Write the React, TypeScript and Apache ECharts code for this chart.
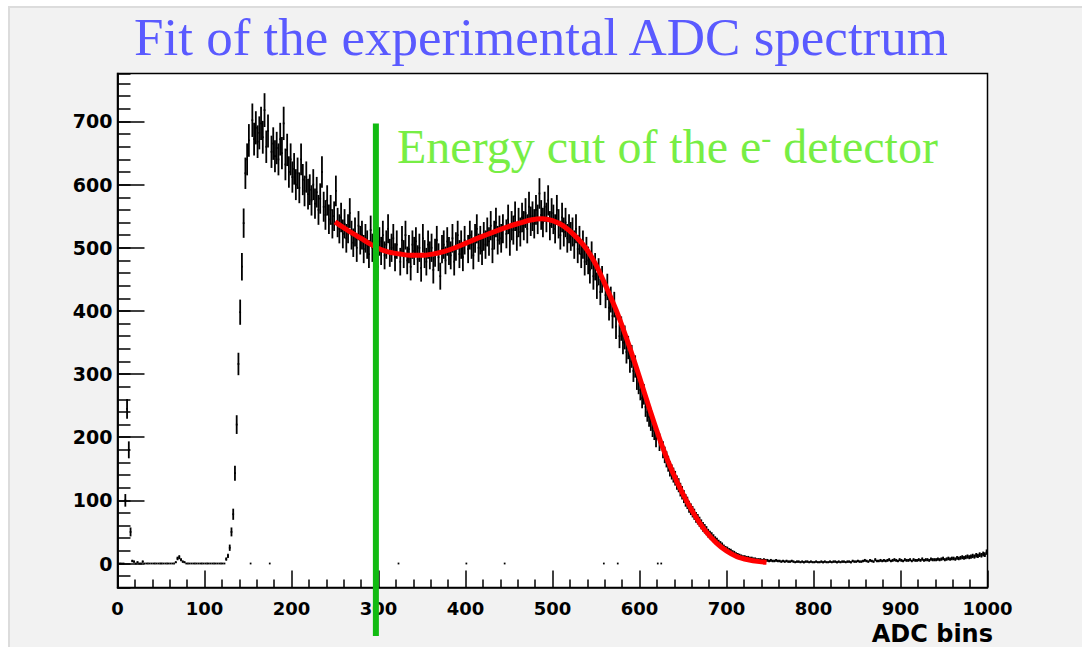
import React, { useEffect, useRef } from 'react';
import * as echarts from 'echarts';

// ---------- data ----------
const binWidth = 2; // ADC units per histogram bin, bins start at 0

// counts per bin (500 bins, 0..1000 ADC)
const counts: number[] = [
  0, 0, 0, 0, 100, 245, 180, 50, 4, 3,
  0, 2, 0, 0, 3, 0, 0, 0, 0, 0,
  0, 0, 0, 0, 0, 0, 0, 0, 0, 0,
  0, 0, 0, 2, 8, 10, 6, 3, 2, 0,
  0, 0, 0, 0, 0, 0, 0, 0, 0, 0,
  0, 0, 0, 0, 0, 0, 0, 0, 0, 0,
  0, 0, 7, 12, 25, 50, 78, 143, 220, 316,
  398, 470, 539, 618, 640, 670, 0, 702, 672, 690,
  668, 682, 697, 675, 718, 660, 685, 0, 652, 665,
  645, 658, 640, 672, 650, 697, 632, 655, 620, 640,
  612, 625, 600, 618, 595, 640, 608, 590, 612, 585,
  592, 575, 600, 570, 588, 560, 578, 620, 565, 552,
  575, 545, 560, 538, 550, 590, 540, 530, 548, 522,
  538, 515, 530, 555, 520, 508, 525, 500, 535, 512,
  520, 498, 515, 505, 490, 528, 500, 485, 548, 470,
  510, 495, 520, 488, 505, 530, 492, 500, 515, 485,
  505, 0, 478, 512, 490, 520, 480, 498, 470, 505,
  495, 510, 482, 500, 468, 515, 490, 478, 505, 488,
  500, 465, 492, 512, 485, 455, 498, 505, 480, 510,
  495, 488, 515, 478, 502, 520, 490, 505, 485, 512,
  0, 498, 520, 505, 488, 515, 530, 500, 512, 495,
  518, 505, 525, 510, 535, 498, 520, 540, 512, 528,
  515, 530, 0, 522, 545, 510, 535, 528, 550, 518,
  540, 525, 548, 535, 555, 530, 565, 542, 550, 538,
  560, 545, 586, 552, 540, 565, 548, 575, 535, 555,
  545, 530, 560, 538, 520, 548, 525, 540, 515, 530,
  518, 525, 505, 530, 498, 512, 490, 505, 478, 495,
  480, 465, 488, 455, 470, 440, 462, 430, 450, 0,
  425, 438, 405, 418, 392, 410, 375, 0, 360, 372,
  350, 358, 335, 342, 320, 328, 305, 312, 292, 285,
  275, 262, 268, 248, 240, 232, 225, 215, 210, 198,
  0, 192, 0, 180, 172, 165, 158, 150, 145, 140,
  135, 128, 124, 117, 112, 106, 100, 96, 90, 86,
  82, 78, 73, 70, 66, 62, 58, 55, 52, 48,
  45, 43, 40, 37, 35, 32, 30, 28, 25, 23,
  22, 20, 19, 17, 16, 14, 13, 12, 11, 10,
  10, 9, 9, 8, 8, 7, 7, 6, 6, 6,
  5, 6, 5, 5, 4, 5, 4, 4, 5, 4,
  4, 3, 4, 3, 4, 3, 3, 4, 3, 2,
  3, 3, 2, 3, 2, 3, 3, 2, 3, 2,
  2, 3, 2, 2, 3, 2, 3, 2, 2, 3,
  2, 3, 3, 2, 3, 2, 3, 3, 2, 3,
  3, 2, 4, 3, 3, 4, 3, 3, 4, 5,
  4, 3, 5, 4, 3, 6, 4, 4, 5, 4,
  5, 4, 5, 6, 4, 5, 6, 5, 4, 6,
  5, 4, 6, 5, 5, 6, 4, 6, 5, 5,
  6, 5, 7, 5, 6, 6, 5, 7, 6, 6,
  6, 7, 6, 7, 8, 6, 7, 8, 7, 8,
  8, 7, 9, 8, 9, 10, 9, 10, 11, 10,
  11, 12, 11, 13, 12, 14, 13, 15, 14, 18,
];

// fit curve
const fitAdc: number[] = [250, 262, 275, 288, 300, 312, 325, 338, 350, 362, 375, 388, 400, 412, 425, 438, 450, 462, 475, 488, 500, 512, 525, 538, 550, 562, 575, 588, 600, 612, 625, 638, 650, 662, 675, 688, 700, 712, 725, 738, 746];
const fitCounts: number[] = [541, 530, 519, 508, 499, 493, 490, 488, 488, 490, 494, 500, 507, 514, 521, 528, 534, 539, 544, 546, 543, 535, 520, 500, 473, 437, 395, 345, 295, 243, 190, 145, 110, 80, 53, 33, 20, 11, 6, 3, 2];

// energy cut
const cutAdc = 297;
const cutTop = 697;
const cutBottom = -115;

// axes
const xMin = 0;
const xMax = 1000;
const yMin = -38;
const yMax = 776;

const titleText = 'Fit of the experimental ADC spectrum';
const xAxisTitle = 'ADC bins';

// ---------- chart ----------
const labelFont = {
  fontFamily: 'DejaVu Sans',
  fontWeight: 'bold' as const,
  fontSize: 18,
  color: '#000',
};

function buildOption() {
  const histData = counts.map((n, i) => [i * binWidth + binWidth / 2, n, Math.sqrt(n)]);
  const fitData = fitAdc.map((x, i) => [x, fitCounts[i]]);
  const stroke = '#000';
  const lw = 1.8;

  return {
    animation: false,
    backgroundColor: 'transparent',
    title: {
      text: titleText,
      left: 'center',
      top: 5,
      textStyle: {
        fontFamily: 'Liberation Serif',
        fontWeight: 'normal',
        fontSize: 53,
        color: '#5a5aff',
      },
    },
    grid: {
      left: 117.5,
      top: 73.5,
      width: 870,
      height: 514,
      show: true,
      backgroundColor: '#ffffff',
      borderColor: '#000',
      borderWidth: 1.5,
      containLabel: false,
    },
    xAxis: {
      type: 'value',
      min: xMin,
      max: xMax,
      interval: 100,
      axisLine: { show: true, onZero: false, lineStyle: { color: '#000', width: 1.5 } },
      axisTick: { show: true, inside: true, length: 17, lineStyle: { color: '#000', width: 1.5 } },
      minorTick: { show: true, splitNumber: 5, length: 8, lineStyle: { color: '#000', width: 1.5 } },
      splitLine: { show: false },
      minorSplitLine: { show: false },
      axisLabel: { ...labelFont, lineHeight: 16, margin: 13, formatter: (v: number) => String(v) },
    },
    yAxis: [
      {
        // minor ticks (every 20)
        type: 'value',
        min: yMin,
        max: yMax,
        splitNumber: 40,
        position: 'left',
        axisLine: { show: true, onZero: false, lineStyle: { color: '#000', width: 1.5 } },
        axisTick: { show: true, inside: true, length: 13, lineStyle: { color: '#000', width: 1.5 } },
        axisLabel: { show: false },
        splitLine: { show: false },
      },
      {
        // major ticks (every 100) + labels
        type: 'value',
        min: yMin,
        max: yMax,
        splitNumber: 8,
        position: 'left',
        axisLine: { show: true, onZero: false, lineStyle: { color: '#000', width: 1.5 } },
        axisTick: { show: true, inside: true, length: 27, lineStyle: { color: '#000', width: 1.5 } },
        splitLine: { show: false },
        axisLabel: {
          ...labelFont,
          fontSize: 19,
          margin: 5,
          showMinLabel: false,
          showMaxLabel: false,
          formatter: (v: number) => (Math.abs(v % 100) < 1e-6 ? String(v) : ''),
        },
      },
    ],
    series: [
      {
        type: 'custom',
        name: 'data',
        xAxisIndex: 0,
        yAxisIndex: 1,
        encode: { x: 0, y: 1 },
        data: histData,
        z: 2,
        renderItem: (params: any, api: any) => {
          const c = api.value(0);
          const v = api.value(1);
          const e = api.value(2);
          const l = api.coord([c - binWidth / 2, v]);
          const r = api.coord([c + binWidth / 2, v]);
          const children: any[] = [
            { type: 'line', shape: { x1: l[0], y1: l[1], x2: r[0], y2: r[1] }, style: { stroke, lineWidth: lw } },
          ];
          if (e > 0) {
            const lo = api.coord([c, v - e]);
            const hi = api.coord([c, v + e]);
            children.push({ type: 'line', shape: { x1: lo[0], y1: lo[1], x2: hi[0], y2: hi[1] }, style: { stroke, lineWidth: lw } });
          }
          return { type: 'group', children };
        },
      },
      {
        type: 'line',
        name: 'fit',
        xAxisIndex: 0,
        yAxisIndex: 1,
        data: fitData,
        smooth: 0.3,
        showSymbol: false,
        symbol: 'none',
        lineStyle: { color: '#ff0000', width: 5 },
        z: 3,
      },
      {
        type: 'line',
        name: 'cut',
        xAxisIndex: 0,
        yAxisIndex: 1,
        data: [[cutAdc, cutTop], [cutAdc, cutBottom]],
        clip: false,
        showSymbol: false,
        symbol: 'none',
        lineStyle: { color: '#11bb11', width: 6 },
        z: 4,
      },
    ],
    graphic: [
      {
        type: 'text',
        x: 397,
        y: 146,
        z: 10,
        style: {
          text: 'Energy cut of the e{sup|-} detector',
          fontFamily: 'Liberation Serif',
          fontSize: 48,
          fill: '#77ee44',
          textVerticalAlign: 'middle',
          verticalAlign: 'middle',
          rich: {
            sup: {
              fontFamily: 'Liberation Serif',
              fontSize: 30,
              fill: '#77ee44',
              verticalAlign: 'top',
            },
          },
        },
      },
      {
        type: 'text',
        x: 993,
        y: 634,
        z: 10,
        style: {
          text: xAxisTitle,
          fontFamily: 'DejaVu Sans',
          fontWeight: 'bold',
          fontSize: 24,
          lineHeight: 20,
          fill: '#000',
          align: 'right',
          verticalAlign: 'middle',
        },
      },
    ],
  };
}

export default function App() {
  const ref = useRef<HTMLDivElement>(null);
  useEffect(() => {
    if (!ref.current) return;
    const chart = echarts.init(ref.current, null, { renderer: 'svg' });
    chart.setOption(buildOption() as any);
    return () => chart.dispose();
  }, []);
  return (
    <div style={{ position: 'absolute', left: 0, top: 0, width: 1082, height: 647, background: '#ffffff', overflow: 'hidden' }}>
      <div
        style={{
          position: 'absolute',
          left: 8,
          top: 6,
          width: 1100,
          height: 700,
          background: '#f2f2f2',
          borderTop: '2px solid #dcdcdc',
          borderLeft: '2px solid #dcdcdc',
        }}
      />
      <div ref={ref} style={{ position: 'absolute', left: 0, top: 0, width: 1082, height: 647 }} />
    </div>
  );
}
